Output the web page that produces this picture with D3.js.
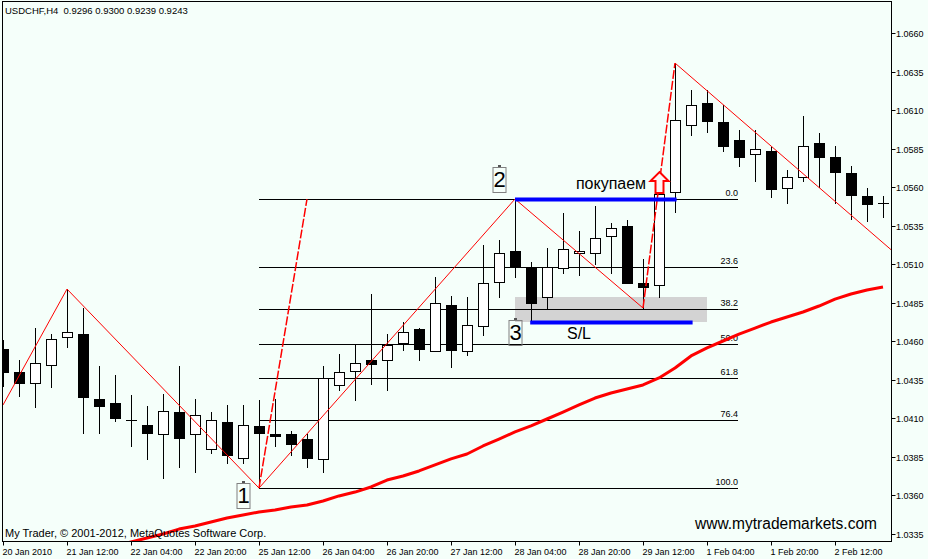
<!DOCTYPE html>
<html><head><meta charset="utf-8">
<script src="https://cdn.jsdelivr.net/npm/d3@7"></script>
<style>
html,body{margin:0;padding:0;background:#F5FFFA;}
svg{display:block;}
</style>
</head><body>
<svg id="chart" width="928" height="559"></svg>
<script>
// ---------------- DATA ----------------
const titleText = "USDCHF,H4  0.9296 0.9300 0.9239 0.9243";
const copyrightText = "My Trader, \u00A9 2001-2012, MetaQuotes Software Corp.";
const siteText = "www.mytrademarkets.com";

// H4 bars, index 0 = 20 Jan 2010 20:00
const opens  = [1.04550,1.04401,1.04330,1.04446,1.04628,1.04647,1.04226,1.04200,1.04090,1.04057,
                1.03999,1.04141,1.03999,1.03901,1.04077,1.03843,1.04051,1.03999,1.03999,1.03966,
                1.03837,1.04317,1.04407,1.04479,1.04479,1.04589,1.04680,1.04537,1.04836,1.04537,
                1.04699,1.04985,1.05186,1.05076,1.04887,1.05076,1.05173,1.05173,1.05283,1.05348,
                1.04978,1.04965,1.05569,1.06003,1.06146,1.06023,1.05906,1.05815,1.05835,1.05595,
                1.05666,1.05886,1.05796,1.05692,1.05543,1.05497];
const highs  = [1.04608,1.04479,1.04686,1.04647,1.04939,1.04816,1.04440,1.04381,1.04252,1.04180,
                1.04258,1.04440,1.04226,1.04141,1.04187,1.04187,1.04219,1.04226,1.04018,1.03999,
                1.04440,1.04518,1.04583,1.04907,1.04647,1.04725,1.04686,1.05017,1.04894,1.04887,
                1.05225,1.05257,1.05523,1.05114,1.05205,1.05432,1.05316,1.05478,1.05367,1.05387,
                1.05134,1.05575,1.06405,1.06230,1.06230,1.06133,1.05971,1.05971,1.05860,1.05711,
                1.06062,1.05951,1.05867,1.05737,1.05595,1.05543];
const lows   = [1.04310,1.04245,1.04174,1.04304,1.04563,1.04005,1.04005,1.04083,1.03921,1.03837,
                1.03713,1.03785,1.03752,1.03875,1.03811,1.03811,1.03648,1.03921,1.03862,1.03785,
                1.03752,1.04284,1.04219,1.04323,1.04284,1.04544,1.04479,1.04537,1.04433,1.04511,
                1.04641,1.04887,1.05017,1.04738,1.04816,1.05043,1.05030,1.05101,1.05043,1.04978,
                1.04816,1.04887,1.05439,1.05938,1.05958,1.05835,1.05737,1.05640,1.05536,1.05497,
                1.05640,1.05601,1.05497,1.05393,1.05380,1.05406];
const closes = [1.04401,1.04330,1.04459,1.04615,1.04660,1.04239,1.04180,1.04102,1.04090,1.04005,
                1.04148,1.03973,1.04122,1.04090,1.03862,1.04057,1.04005,1.03986,1.03934,1.03843,
                1.04362,1.04401,1.04459,1.04453,1.04576,1.04660,1.04550,1.04849,1.04544,1.04706,
                1.04978,1.05173,1.05089,1.04849,1.05082,1.05199,1.05186,1.05270,1.05335,1.04978,
                1.04952,1.05556,1.06036,1.06133,1.06029,1.05867,1.05796,1.05848,1.05588,1.05666,
                1.05867,1.05796,1.05698,1.05549,1.05491,1.05497];

// moving average per bar (null where below the window)
const maValues = [null,null,null,null,null,null,null,1.03272,1.03298,1.03324,
                  1.03350,1.03382,1.03402,1.03428,1.03454,1.03473,1.03493,1.03506,1.03525,1.03538,
                  1.03564,1.03597,1.03622,1.03655,1.03700,1.03726,1.03759,1.03798,1.03837,1.03869,
                  1.03921,1.03966,1.04012,1.04051,1.04096,1.04141,1.04187,1.04232,1.04265,1.04291,
                  1.04317,1.04362,1.04427,1.04505,1.04557,1.04602,1.04647,1.04686,1.04725,1.04758,
                  1.04790,1.04829,1.04874,1.04907,1.04933,1.04952];

const xTickIndex  = [0,4,8,12,16,20,24,28,32,36,40,44,48,52];
const xTickLabels = ["20 Jan 2010","21 Jan 12:00","22 Jan 04:00","22 Jan 20:00","25 Jan 12:00",
                     "26 Jan 04:00","26 Jan 20:00","27 Jan 12:00","28 Jan 04:00","28 Jan 20:00",
                     "29 Jan 12:00","1 Feb 04:00","1 Feb 20:00","2 Feb 12:00"];
const yTickValues = [1.0335,1.0360,1.0385,1.0410,1.0435,1.0460,1.0485,1.0510,1.0535,1.0560,1.0585,1.0610,1.0635,1.0660];

// zigzag vertices [bar index, price]
const zigzagIdx   = [0, 4, 16, 32, 40, 42, 57];
const zigzagPrice = [1.04187, 1.04939, 1.03648, 1.05523, 1.04816, 1.06405, 1.0506];

// fibonacci retracement
const fibLevels = [0.0, 23.6, 38.2, 50.0, 61.8, 76.4, 100.0];
const fibHigh = 1.05523, fibLow = 1.03648;
const fibStartIdx = 16, fibEndIdx = 45.95, fibDiagEndIdx = 19;

// chart objects
const zoneIdx = [32, 44], zonePrice = [1.04887, 1.04725];
const buyLineIdx = [32, 42.1], buyLinePrice = 1.05523;
const slLineIdx = [32.95, 43.1], slLinePrice = 1.04725;
const pointLabels = ["1","2","3"];
const pointLabelIdx = [15, 31, 32];
const pointLabelPrice = [1.03687, 1.05737, 1.04745];
const noteTexts = ["покупаем", "S/L"];
const noteIdx = [38, 36];
const notePrice = [1.05588, 1.04615];
const arrowIdx = 41, arrowTipPrice = 1.05698, arrowBasePrice = 1.05562;

// ---------------- DRAW ----------------
const svg = d3.select("#chart");
const W = 928, H = 559;
const L = 2.5, T = 1.5, R = 891.5, B = 541.5;
const FONT = "Tahoma, 'Liberation Sans', Arial, sans-serif";

const x = d3.scaleLinear().domain([0, 55]).range([3, 883]);
const y = d3.scaleLinear().domain([1.0335, 1.0660]).range([534, 33]);
const px = v => Math.round(x(v));
const py = v => Math.round(y(v));

svg.append("rect").attr("width", W).attr("height", H).attr("fill", "#F5FFFA");

svg.append("defs").append("clipPath").attr("id", "plot")
  .append("rect").attr("x", L).attr("y", T).attr("width", R - L).attr("height", B - T);

const g = svg.append("g").attr("clip-path", "url(#plot)");

// title / copyright
svg.append("text").attr("x", 5).attr("y", 14).attr("font-family", FONT).attr("font-size", 9.5)
  .style("white-space", "pre").attr("fill", "#000").text(titleText);

// gray zone
g.append("rect")
  .attr("x", px(zoneIdx[0])).attr("y", py(zonePrice[0]))
  .attr("width", px(zoneIdx[1]) - px(zoneIdx[0]))
  .attr("height", py(zonePrice[1]) - py(zonePrice[0]))
  .attr("fill", "#D3D3D3");

// fib lines
const fibVal = lv => fibHigh - (fibHigh - fibLow) * lv / 100;
fibLevels.forEach(lv => {
  const yy = py(fibVal(lv)) + 0.5;
  g.append("line").attr("x1", px(fibStartIdx)).attr("x2", px(fibEndIdx))
    .attr("y1", yy).attr("y2", yy).attr("stroke", "#000").attr("stroke-width", 1);
  g.append("text").attr("x", px(fibEndIdx)).attr("y", yy - 3.5)
    .attr("text-anchor", "end").attr("font-family", FONT).attr("font-size", 9)
    .attr("fill", "#000").text(lv.toFixed(1));
});

// copyright (under lines)
svg.append("text").attr("x", 5).attr("y", 537).attr("font-family", FONT).attr("font-size", 11)
  .attr("fill", "#000").text(copyrightText);

// candles
const bars = d3.range(opens.length).map(i => ({i, o: opens[i], h: highs[i], l: lows[i], c: closes[i]}));
const cg = g.append("g");
bars.forEach(d => {
  const cx = px(d.i);
  cg.append("line").attr("x1", cx + 0.5).attr("x2", cx + 0.5)
    .attr("y1", py(d.h)).attr("y2", py(d.l) + 1).attr("stroke", "#000").attr("stroke-width", 1);
  const top = py(Math.max(d.o, d.c)), bot = py(Math.min(d.o, d.c));
  const bull = d.c > d.o;
  if (bot - top < 1) {
    cg.append("line").attr("x1", cx - 5).attr("x2", cx + 6)
      .attr("y1", top + 0.5).attr("y2", top + 0.5).attr("stroke", "#000").attr("stroke-width", 1);
  } else {
    cg.append("rect").attr("x", cx - 4.5).attr("y", top + 0.5)
      .attr("width", 10).attr("height", bot - top)
      .attr("fill", bull ? "#FFFFFF" : "#000000").attr("stroke", "#000").attr("stroke-width", 1);
  }
});

// moving average
const maLine = d3.line().defined(d => d != null)
  .x((d, i) => x(i)).y(d => y(d)).curve(d3.curveLinear);
g.append("path").datum(maValues).attr("d", maLine)
  .attr("fill", "none").attr("stroke", "#FF0000").attr("stroke-width", 3).attr("stroke-linejoin", "round");

// zigzag
const zz = zigzagIdx.map((v, k) => [x(v), y(zigzagPrice[k])]);
const ln = d3.line();
g.append("path").attr("d", ln(zz.slice(0, 5))).attr("fill", "none").attr("stroke", "#FF0000").attr("stroke-width", 1);
g.append("path").attr("d", ln(zz.slice(4, 6))).attr("fill", "none").attr("stroke", "#FF0000")
  .attr("stroke-width", 1.5).attr("stroke-dasharray", "9,2");
g.append("path").attr("d", ln(zz.slice(5))).attr("fill", "none").attr("stroke", "#FF0000").attr("stroke-width", 1);

// fib diagonal
g.append("line").attr("x1", x(fibStartIdx)).attr("y1", y(fibLow))
  .attr("x2", x(fibDiagEndIdx)).attr("y2", y(fibHigh))
  .attr("stroke", "#FF0000").attr("stroke-width", 1.5).attr("stroke-dasharray", "9,2");

// blue lines
[[buyLineIdx, buyLinePrice], [slLineIdx, slLinePrice]].forEach(([idx, p]) => {
  g.append("line").attr("x1", x(idx[0])).attr("x2", x(idx[1]))
    .attr("y1", py(p) + 0.5).attr("y2", py(p) + 0.5)
    .attr("stroke", "#0000FF").attr("stroke-width", 4);
});

// arrow
{
  const cx = x(arrowIdx) + 0.5, ty = y(arrowTipPrice), by = y(arrowBasePrice);
  const hh = 9, hw = 9, sw = 4;
  const pts = [[cx, ty], [cx + hw, ty + hh], [cx + sw, ty + hh], [cx + sw, by], [cx - sw, by],
               [cx - sw, ty + hh], [cx - hw, ty + hh]];
  g.append("path").attr("d", d3.line()(pts) + "Z")
    .attr("fill", "#FFF4F4").attr("stroke", "#FF0000").attr("stroke-width", 2).attr("stroke-linejoin", "miter");
}

// notes
noteTexts.forEach((t, k) => {
  g.append("text").attr("x", x(noteIdx[k])).attr("y", y(notePrice[k]))
    .attr("text-anchor", "middle").attr("font-family", "'Liberation Sans', Arial, sans-serif")
    .attr("font-size", 16).attr("fill", "#000").text(t);
});

// point labels (boxed)
pointLabels.forEach((t, k) => {
  const cx = px(pointLabelIdx[k]) + 0.5, ty = py(pointLabelPrice[k]);
  g.append("rect").attr("x", cx - 6.5).attr("y", ty + 1.5).attr("width", 13).attr("height", 25)
    .attr("fill", "none").attr("stroke", "#808080").attr("stroke-width", 1);
  g.append("rect").attr("x", cx - 1.5).attr("y", ty - 1).attr("width", 3).attr("height", 2).attr("fill", "#555");
  g.append("text").attr("x", cx).attr("y", ty + 21).attr("text-anchor", "middle")
    .attr("font-family", "'Liberation Sans', Arial, sans-serif").attr("font-size", 22)
    .attr("fill", "#000").text(t);
});

// site text
svg.append("text").attr("x", 877).attr("y", 529).attr("text-anchor", "end")
  .attr("font-family", "'Liberation Sans', Arial, sans-serif").attr("font-size", 16)
  .attr("textLength", 182).attr("lengthAdjust", "spacingAndGlyphs")
  .attr("fill", "#000").text(siteText);

// frame
svg.append("rect").attr("x", L).attr("y", T).attr("width", R - L).attr("height", B - T)
  .attr("fill", "none").attr("stroke", "#000").attr("stroke-width", 1);

// y axis
yTickValues.forEach(v => {
  const yy = py(v) + 0.5;
  svg.append("line").attr("x1", R).attr("x2", R + 4).attr("y1", yy).attr("y2", yy).attr("stroke", "#000");
  svg.append("text").attr("x", 896).attr("y", yy).attr("dy", "0.35em")
    .attr("font-family", FONT).attr("font-size", 9).attr("fill", "#000").text(d3.format(".4f")(v));
});

// x axis
xTickIndex.forEach((i, k) => {
  const xx = px(i) + 0.5;
  svg.append("line").attr("x1", xx).attr("x2", xx).attr("y1", B).attr("y2", B + 4).attr("stroke", "#000");
  svg.append("text").attr("x", xx - 1).attr("y", 555)
    .attr("font-family", FONT).attr("font-size", 9).attr("fill", "#000").text(xTickLabels[k]);
});
</script>
</body></html>
